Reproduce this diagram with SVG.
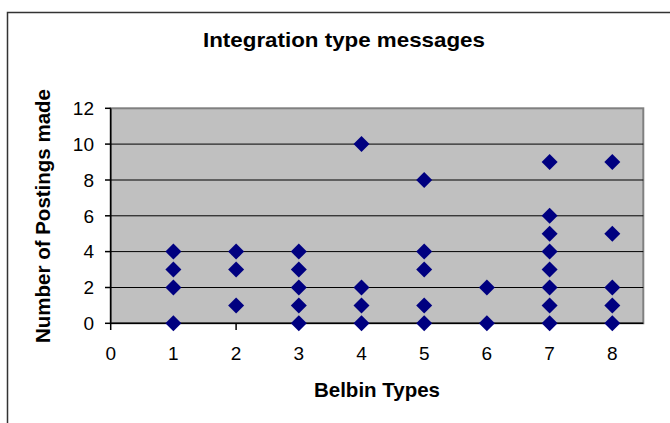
<svg xmlns="http://www.w3.org/2000/svg" width="670" height="423" viewBox="0 0 670 423">
  <defs>
    <style>
      text { font-family: "Liberation Sans", Arial, sans-serif; fill: #000; }
      .title { font-size: 20.5px; font-weight: bold; text-anchor: middle; }
      .tick { font-size: 19px; }
      .ty { text-anchor: end; }
      .tx { text-anchor: middle; }
      .grid { stroke: #000; stroke-width: 1; }
      .axis { stroke: #000; stroke-width: 1.5; }
      .pt { fill: #000080; }
    </style>
    <path id="dia" d="M0,-8 L8,0 L0,8 L-8,0 Z"/>
  </defs>

  <rect width="670" height="423" fill="#fff"/>
  <!-- chart area outline -->
  <path d="M7.5,423 L7.5,12.5 L670,12.5" fill="none" stroke="#333" stroke-width="1.5"/>

  <text class="title" x="344" y="47" textLength="282" lengthAdjust="spacingAndGlyphs">Integration type messages</text>

  <!-- plot area -->
  <g id="plot">
    <rect x="110.7" y="108.3" width="532.6" height="215" fill="#C0C0C0" stroke="#808080" stroke-width="2"/>
    <g class="grid">
      <line x1="110.7" y1="144.1" x2="643.3" y2="144.1"/>
      <line x1="110.7" y1="180" x2="643.3" y2="180"/>
      <line x1="110.7" y1="215.8" x2="643.3" y2="215.8"/>
      <line x1="110.7" y1="251.6" x2="643.3" y2="251.6"/>
      <line x1="110.7" y1="287.5" x2="643.3" y2="287.5"/>
    </g>
    <g class="axis">
      <line x1="110.7" y1="108.3" x2="110.7" y2="324"/>
      <line x1="110" y1="323.3" x2="643.3" y2="323.3"/>
      <!-- y ticks -->
      <line x1="105" y1="108.3" x2="110.7" y2="108.3"/>
      <line x1="105" y1="144.1" x2="110.7" y2="144.1"/>
      <line x1="105" y1="180" x2="110.7" y2="180"/>
      <line x1="105" y1="215.8" x2="110.7" y2="215.8"/>
      <line x1="105" y1="251.6" x2="110.7" y2="251.6"/>
      <line x1="105" y1="287.5" x2="110.7" y2="287.5"/>
      <line x1="105" y1="323.3" x2="110.7" y2="323.3"/>
      <!-- x ticks -->
      <line x1="110.7" y1="323.3" x2="110.7" y2="330"/>
      <line x1="173.4" y1="323.3" x2="173.4" y2="330"/>
      <line x1="236.1" y1="323.3" x2="236.1" y2="330"/>
      <line x1="298.8" y1="323.3" x2="298.8" y2="330"/>
      <line x1="361.5" y1="323.3" x2="361.5" y2="330"/>
      <line x1="424.2" y1="323.3" x2="424.2" y2="330"/>
      <line x1="486.9" y1="323.3" x2="486.9" y2="330"/>
      <line x1="549.6" y1="323.3" x2="549.6" y2="330"/>
      <line x1="612.3" y1="323.3" x2="612.3" y2="330"/>
    </g>
  </g>

  <!-- y axis labels -->
  <g id="y-labels" class="tick ty">
    <text x="94" y="115">12</text>
    <text x="94" y="150.8">10</text>
    <text x="94" y="186.7">8</text>
    <text x="94" y="222.5">6</text>
    <text x="94" y="258.3">4</text>
    <text x="94" y="294.2">2</text>
    <text x="94" y="330">0</text>
  </g>

  <!-- x axis labels -->
  <g id="x-labels" class="tick tx">
    <text x="110.7" y="360">0</text>
    <text x="173.4" y="360">1</text>
    <text x="236.1" y="360">2</text>
    <text x="298.8" y="360">3</text>
    <text x="361.5" y="360">4</text>
    <text x="424.2" y="360">5</text>
    <text x="486.9" y="360">6</text>
    <text x="549.6" y="360">7</text>
    <text x="612.3" y="360">8</text>
  </g>

  <text class="title" x="377" y="397">Belbin Types</text>
  <text class="title" transform="translate(50,216) rotate(-90)" x="0" y="0">Number of Postings made</text>

  <!-- data points: y = 323.3 - 17.92*v -->
  <g id="series" class="pt">
    <use href="#dia" x="173.4" y="251.6"/>
    <use href="#dia" x="173.4" y="269.5"/>
    <use href="#dia" x="173.4" y="287.5"/>
    <use href="#dia" x="173.4" y="323.3"/>

    <use href="#dia" x="236.1" y="251.6"/>
    <use href="#dia" x="236.1" y="269.5"/>
    <use href="#dia" x="236.1" y="305.4"/>

    <use href="#dia" x="298.8" y="251.6"/>
    <use href="#dia" x="298.8" y="269.5"/>
    <use href="#dia" x="298.8" y="287.5"/>
    <use href="#dia" x="298.8" y="305.4"/>
    <use href="#dia" x="298.8" y="323.3"/>

    <use href="#dia" x="361.5" y="144.1"/>
    <use href="#dia" x="361.5" y="287.5"/>
    <use href="#dia" x="361.5" y="305.4"/>
    <use href="#dia" x="361.5" y="323.3"/>

    <use href="#dia" x="424.2" y="180"/>
    <use href="#dia" x="424.2" y="251.6"/>
    <use href="#dia" x="424.2" y="269.5"/>
    <use href="#dia" x="424.2" y="305.4"/>
    <use href="#dia" x="424.2" y="323.3"/>

    <use href="#dia" x="486.9" y="287.5"/>
    <use href="#dia" x="486.9" y="323.3"/>

    <use href="#dia" x="549.6" y="162"/>
    <use href="#dia" x="549.6" y="215.8"/>
    <use href="#dia" x="549.6" y="233.7"/>
    <use href="#dia" x="549.6" y="251.6"/>
    <use href="#dia" x="549.6" y="269.5"/>
    <use href="#dia" x="549.6" y="287.5"/>
    <use href="#dia" x="549.6" y="305.4"/>
    <use href="#dia" x="549.6" y="323.3"/>

    <use href="#dia" x="612.3" y="162"/>
    <use href="#dia" x="612.3" y="233.7"/>
    <use href="#dia" x="612.3" y="287.5"/>
    <use href="#dia" x="612.3" y="305.4"/>
    <use href="#dia" x="612.3" y="323.3"/>
  </g>
</svg>
